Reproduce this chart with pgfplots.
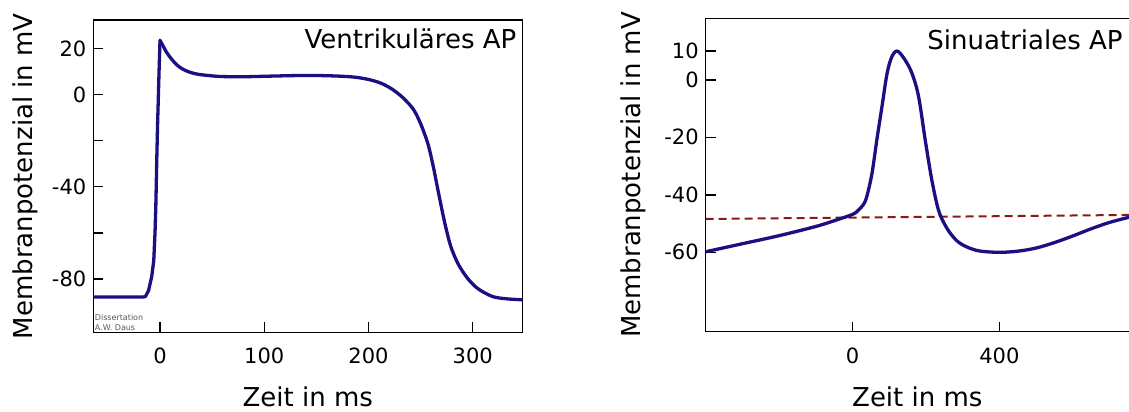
\documentclass[border=0pt]{standalone}
\usepackage{fontspec}
\setmainfont{DejaVu Sans}
\usepackage{pgfplots}
\pgfplotsset{compat=1.18}
\definecolor{apblue}{RGB}{26,16,130}
\definecolor{dashred}{RGB}{140,25,25}
\definecolor{notegray}{RGB}{90,90,90}
\begin{document}
\begin{tikzpicture}
\useasboundingbox (0,0) rectangle (564.5pt,206pt);
\pgfplotsset{
  apstyle/.style={
    scale only axis,
    anchor=south west,
    tick align=inside, tick pos=left, major tick length=5pt,
    axis line style={line width=0.7pt},
    tick style={line width=0.7pt, black},
    tick label style={font=\fontsize{10.5}{12}\selectfont},
    xticklabel style={anchor=base, yshift=-15.7pt},
    label style={font=\fontsize{13}{15}\selectfont},
  }
}
% ---------------- Left: ventricular AP ----------------
\begin{axis}[apstyle,
  at={(46.65pt,39.85pt)},
  width=214.5pt, height=156.15pt,
  xmin=-64, xmax=347.5, ymin=-103.1, ymax=32.3,
  xtick={0,100,200,300}, xticklabels={0,100,200,300},
  ytick={-80,-60,-40,-20,0,20}, yticklabels={-80,,-40,,0,20},
  xlabel={Zeit in ms},
  xlabel style={at={(axis description cs:0.5,0)}, anchor=base, yshift=-36.85pt},
  ylabel={Membranpotenzial in mV},
  ylabel style={at={(axis description cs:-0.159,0.5)}, anchor=center},
]
\addplot[color=apblue, line width=1.65pt, line join=round, line cap=round] coordinates {
(-64,-87.8) (-16,-87.8) (-14,-87.6) (-11,-85) (-8,-79) (-6,-72) (-4.8,-60)
(-4,-48) (-3.2,-30) (-2.4,-14) (-1.6,-1) (-0.8,12) (0,23.5)
};
\addplot[color=apblue, line width=1.65pt, line join=round, line cap=round, smooth, tension=0.5] coordinates {
(0,23.5) (3,21) (6,18.5) (9.6,16.2) (14,13.8) (19,11.8) (24,10.5) (29,9.6) (36,8.8)
(45,8.3) (58,7.8) (80,7.7) (100,7.9) (130,8.2) (154,8.2) (175,7.9) (189,7.4)
(202,6.3) (213,4.7) (223,2.2) (233,-1.4) (243,-6.4) (250,-12.7) (257,-21.4)
(262,-31) (266,-40.1) (270,-49) (274,-57.4) (279,-66) (286,-73.5)
(295,-79.7) (305,-84.2) (319,-87.6) (333,-88.6) (347.5,-89)
};
\node[anchor=base east, inner sep=0pt, xshift=-2.8pt, yshift=-14.5pt,
  font=\fontsize{13}{15}\selectfont] at (rel axis cs:1,1) {Ventrikuläres AP};
\node[anchor=south west, inner sep=0.6pt, align=left, text=notegray,
  font=\fontsize{4}{4.8}\selectfont] at (rel axis cs:0,0) {Dissertation\\A.W. Daus};
\end{axis}
% ---------------- Right: sinoatrial AP ----------------
\begin{axis}[apstyle,
  at={(352.85pt,40.15pt)},
  width=211.65pt, height=156.7pt,
  xmin=-400, xmax=753, ymin=-87.6, ymax=21.4,
  clip=false,
  axis line style={draw=none},
  xtick={0,400}, xticklabels={0,400},
  ytick={-60,-40,-20,0,10}, yticklabels={-60,-40,-20,0,10},
  xlabel={Zeit in ms},
  xlabel style={at={(axis description cs:0.5,0)}, anchor=base, yshift=-37.15pt},
  ylabel={Membranpotenzial in mV},
  ylabel style={at={(axis description cs:-0.1717,0.5)}, anchor=center},
]
\draw[line width=0.7pt, line cap=rect] (rel axis cs:0,1) -- (rel axis cs:0,0) -- (rel axis cs:1,0);
\draw[line width=0.7pt] (rel axis cs:0,1) -- (rel axis cs:1,1);
\addplot[color=dashred, line width=1pt, dash pattern=on 4pt off 2.5pt] coordinates {
(-400,-48.4) (753,-47)
};
\addplot[color=apblue, line width=1.65pt, line join=round, smooth, tension=0.55] coordinates {
(-400,-59.8) (-300,-57) (-200,-54.2) (-100,-51) (-50,-49) (0,-46.8) (16,-45.3)
(30,-43.3) (39,-40.5) (53,-32.5) (66,-21) (80,-9.4) (94,2.2) (107,8) (122,10)
(143,6.9) (162,2.2) (180,-5.9) (198,-21) (216,-34.9) (234,-45.3) (252,-50.5)
(270,-54) (291,-56.7) (320,-58.6) (350,-59.6) (400,-60) (450,-59.6) (500,-58.5)
(550,-56.6) (600,-54.3) (650,-51.8) (700,-49.6) (753,-47.8)
};
\node[anchor=base east, inner sep=0pt, xshift=-3pt, yshift=-15.5pt,
  font=\fontsize{13}{15}\selectfont] at (rel axis cs:1,1) {Sinuatriales AP};
\end{axis}
\end{tikzpicture}
\end{document}
